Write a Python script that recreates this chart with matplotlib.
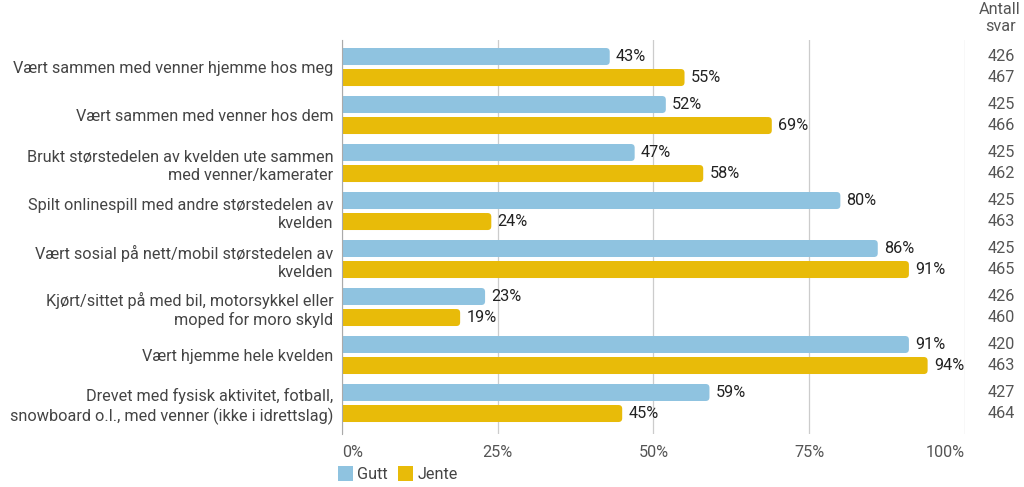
import matplotlib.pyplot as plt
from matplotlib.patches import FancyBboxPatch, Patch
from matplotlib.transforms import blended_transform_factory

plt.rcParams['font.family'] = ['Roboto', 'DejaVu Sans']

categories = [
    "Vært sammen med venner hjemme hos meg",
    "Vært sammen med venner hos dem",
    "Brukt størstedelen av kvelden ute sammen\nmed venner/kamerater",
    "Spilt onlinespill med andre størstedelen av\nkvelden",
    "Vært sosial på nett/mobil størstedelen av\nkvelden",
    "Kjørt/sittet på med bil, motorsykkel eller\nmoped for moro skyld",
    "Vært hjemme hele kvelden",
    "Drevet med fysisk aktivitet, fotball,\nsnowboard o.l., med venner (ikke i idrettslag)",
]
gutt = [43, 52, 47, 80, 86, 23, 91, 59]
jente = [55, 69, 58, 24, 91, 19, 94, 45]
n_gutt = [426, 425, 425, 425, 425, 426, 420, 427]
n_jente = [467, 466, 462, 463, 465, 460, 463, 464]
series_names = ["Gutt", "Jente"]
ticks = [0, 25, 50, 75, 100]

BLUE = "#8fc3e0"
YELLOW = "#e8bb09"
FS = 11.7

fig = plt.figure(figsize=(10.24, 4.87), dpi=100)
ax = fig.add_axes([0.3337, 0.1088, 0.6087, 0.809])

off = 0.219
h = 0.354
# pixels -> data units, for rounded bar ends
aspect = (1 / 48) / (1 / 6.23)


def rounded_bar(y, v, color):
    ax.barh(y, v - 1, height=h, color=color, zorder=2)
    box = FancyBboxPatch((0, y - h / 2), v, h,
                         boxstyle="round,pad=0,rounding_size=0.6",
                         mutation_aspect=aspect, fc=color, ec="none", zorder=2)
    ax.add_patch(box)


for i in range(len(categories)):
    for v, dy, col in [(gutt[i], -off, BLUE), (jente[i], off, YELLOW)]:
        rounded_bar(i + dy, v, col)
        ax.text(v + 1.0, i + dy, f"{v}%", va="center", ha="left",
                fontsize=FS, color="#222222", zorder=3)

ax.set_xlim(0, 100)
ax.set_ylim(7.646, -0.5625)
ax.set_yticks(range(len(categories)))
ax.set_yticklabels(categories, fontsize=FS, color="#444444", ma="right",
                   linespacing=1.25)
ax.set_xticks(ticks)
ax.set_xticklabels([f"{t}%" for t in ticks], fontsize=FS, color="#555555")
xl = ax.get_xticklabels()
xl[0].set_ha("left")
xl[-1].set_ha("right")
ax.tick_params(axis="y", length=0, pad=6)
ax.tick_params(axis="x", length=0, pad=8)
ax.grid(axis="x", color="#cccccc", lw=0.9, zorder=0)
for s in ["top", "right", "bottom"]:
    ax.spines[s].set_visible(False)
ax.spines["left"].set_color("#aaaaaa")
ax.spines["left"].set_zorder(4)

tr = blended_transform_factory(fig.transFigure, ax.transData)
for i in range(len(categories)):
    ax.text(1001 / 1024, i - off, str(n_gutt[i]), transform=tr, ha="center",
            va="center", fontsize=FS, color="#555555", clip_on=False)
    ax.text(1001 / 1024, i + off, str(n_jente[i]), transform=tr, ha="center",
            va="center", fontsize=FS, color="#555555", clip_on=False)
fig.text(1000 / 1024, 1 - 18 / 487, "Antall\nsvar", ha="center", va="center",
         fontsize=FS, color="#555555", linespacing=1.15)

handles = [Patch(fc=BLUE), Patch(fc=YELLOW)]
fig.legend(handles, series_names, loc="center left",
           bbox_to_anchor=(338 / 1024, 1 - 474 / 487), ncol=2, frameon=False,
           fontsize=FS, handlelength=0.9, handleheight=1.0, handletextpad=0.3,
           columnspacing=0.6, borderaxespad=0, borderpad=0, labelcolor="#444444")

fig.savefig("out.png", dpi=100)
